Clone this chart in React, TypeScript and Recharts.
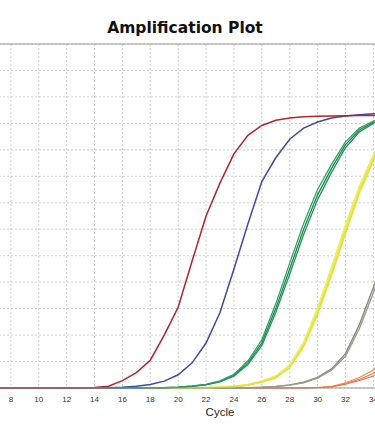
import React from "react";
import { LineChart, Line, XAxis, YAxis, CartesianGrid, ReferenceLine, Label } from "recharts";

const cycles = [6,7,8,9,10,11,12,13,14,15,16,17,18,19,20,21,22,23,24,25,26,27,28,29,30,31,32,33,34,35,36,37,38,39,40];
const xTicks = [8,10,12,14,16,18,20,22,24,26,28,30,32,34];
const yTicks = [0,1,2,3,4,5,6,7,8,9,10,11,12,13];

const red = [0,0,0,0,0,0,0,0,0.02,0.07,0.28,0.58,1.05,2.0,3.05,4.8,6.5,7.75,8.85,9.55,9.92,10.12,10.2,10.25,10.27,10.28,10.29,10.3,10.3,10.31,10.31,10.32,10.32,10.32,10.33];
const blue = [0,0,0,0,0,0,0,0,0,0.01,0.03,0.07,0.13,0.26,0.5,0.95,1.7,2.85,4.5,6.2,7.8,8.7,9.4,9.82,10.05,10.2,10.28,10.33,10.36,10.37,10.38,10.38,10.39,10.39,10.4];
const greenA = [0,0,0,0,0,0,0,0,0,0,0,0,0,0.01,0.03,0.07,0.13,0.25,0.48,0.95,1.7,3.0,4.5,6.0,7.3,8.3,9.2,9.75,10.05,10.2,10.28,10.32,10.34,10.35,10.36];
const greenB = [0,0,0,0,0,0,0,0,0,0,0,0,0,0.01,0.03,0.075,0.14,0.27,0.52,1.02,1.82,3.18,4.72,6.22,7.5,8.45,9.3,9.82,10.09,10.22,10.29,10.33,10.35,10.36,10.37];
const greenC = [0,0,0,0,0,0,0,0,0,0,0,0,0,0.01,0.025,0.065,0.12,0.23,0.45,0.89,1.6,2.85,4.3,5.8,7.12,8.15,9.08,9.68,10.0,10.17,10.26,10.31,10.33,10.34,10.35];
const yellowA = [0,0,0,0,0,0,0,0,0,0,0,0,0,0,0,0,0.01,0.03,0.06,0.12,0.24,0.42,0.82,1.65,2.9,4.4,6.0,7.5,8.7,9.5,9.9,10.1,10.2,10.25,10.28];
const yellowB = [0,0,0,0,0,0,0,0,0,0,0,0,0,0,0,0,0.01,0.03,0.065,0.13,0.26,0.45,0.87,1.73,3.02,4.55,6.15,7.62,8.8,9.55,9.92,10.11,10.21,10.26,10.29];
const yellowC = [0,0,0,0,0,0,0,0,0,0,0,0,0,0,0,0,0.01,0.025,0.055,0.11,0.22,0.39,0.78,1.57,2.8,4.27,5.85,7.38,8.6,9.45,9.87,10.08,10.19,10.24,10.27];
const grayA = [0,0,0,0,0,0,0,0,0,0,0,0,0,0,0,0,0,0,0,0.01,0.03,0.06,0.12,0.22,0.4,0.72,1.3,2.4,3.8,5.4,7.0,8.3,9.2,9.7,10.0];
const grayB = [0,0,0,0,0,0,0,0,0,0,0,0,0,0,0,0,0,0,0,0.01,0.02,0.05,0.11,0.2,0.37,0.67,1.2,2.25,3.6,5.2,6.8,8.1,9.05,9.6,9.95];
const orangeA = [0,0,0,0,0,0,0,0,0,0,0,0,0,0,0,0,0,0,0,0,0,0,0,0,0.02,0.05,0.17,0.33,0.55,1.0,1.8,3.0,4.5,6.0,7.3];
const orangeB = [0,0,0,0,0,0,0,0,0,0,0,0,0,0,0,0,0,0,0,0,0,0,0,0,0.02,0.06,0.2,0.4,0.68,1.2,2.1,3.4,5.0,6.5,7.7];
const orangeC = [0,0,0,0,0,0,0,0,0,0,0,0,0,0,0,0,0,0,0,0,0,0,0,0,0.01,0.04,0.14,0.28,0.45,0.85,1.55,2.7,4.1,5.6,6.9];

const seriesList = [
  { key: "orangeA", values: orangeA, color: "#ee7a48", width: 1.1 },
  { key: "orangeB", values: orangeB, color: "#f08a58", width: 1.1 },
  { key: "orangeC", values: orangeC, color: "#e8703a", width: 1.1 },
  { key: "grayA", values: grayA, color: "#8a8a82", width: 1.4 },
  { key: "grayB", values: grayB, color: "#9a9a90", width: 1.4 },
  { key: "yellowA", values: yellowA, color: "#e6e640", width: 1.7 },
  { key: "yellowB", values: yellowB, color: "#eded66", width: 1.7 },
  { key: "yellowC", values: yellowC, color: "#e2e23a", width: 1.7 },
  { key: "greenA", values: greenA, color: "#1a8a48", width: 1.3 },
  { key: "greenB", values: greenB, color: "#34a066", width: 1.3 },
  { key: "greenC", values: greenC, color: "#23955a", width: 1.3 },
  { key: "blue", values: blue, color: "#3d4ba6", width: 1.5 },
  { key: "red", values: red, color: "#b0262c", width: 1.5 },
];

const data = cycles.map((c, i) => {
  const row: Record<string, number> = { cycle: c };
  seriesList.forEach((s) => {
    row[s.key] = s.values[i];
  });
  return row;
});

export default function App() {
  return (
    <div
      style={{
        position: "fixed",
        left: 0,
        top: 0,
        width: 375,
        height: 437,
        overflow: "hidden",
        background: "#fff",
      }}
    >
      <div
        style={{
          position: "absolute",
          left: 0,
          top: 18,
          width: 370,
          textAlign: "center",
          fontFamily: "'DejaVu Sans', Verdana, sans-serif",
          fontWeight: "bold",
          fontSize: 15.5,
          lineHeight: "20px",
          color: "#111",
        }}
      >
        Amplification Plot
      </div>
      <div style={{ position: "absolute", left: -17, top: 0 }}>
        <LineChart
          width={474}
          height={437}
          data={data}
          margin={{ top: 44, right: 0, left: 0, bottom: 9 }}
        >
          <CartesianGrid stroke="#cfcfcf" strokeDasharray="2 2" />
          <XAxis
            dataKey="cycle"
            type="number"
            domain={[6, 40]}
            ticks={xTicks}
            interval={0}
            height={40}
            tickLine={false}
            axisLine={{ stroke: "#999" }}
            tick={{ fontSize: 8, fill: "#333", fontFamily: "'Liberation Sans', Arial, sans-serif" }}
          >
            <Label
              value="Cycle"
              position="insideBottom"
              offset={12}
              style={{ fontSize: 11.5, fill: "#222", fontFamily: "'Liberation Sans', Arial, sans-serif" }}
            />
          </XAxis>
          <YAxis hide type="number" domain={[0, 13]} ticks={yTicks} />
          <ReferenceLine y={13} stroke="#999" strokeWidth={1} />
          {seriesList.map((s) => (
            <Line
              key={s.key}
              dataKey={s.key}
              type="linear"
              stroke={s.color}
              strokeWidth={s.width}
              dot={false}
              activeDot={false}
              isAnimationActive={false}
            />
          ))}
        </LineChart>
      </div>
    </div>
  );
}
